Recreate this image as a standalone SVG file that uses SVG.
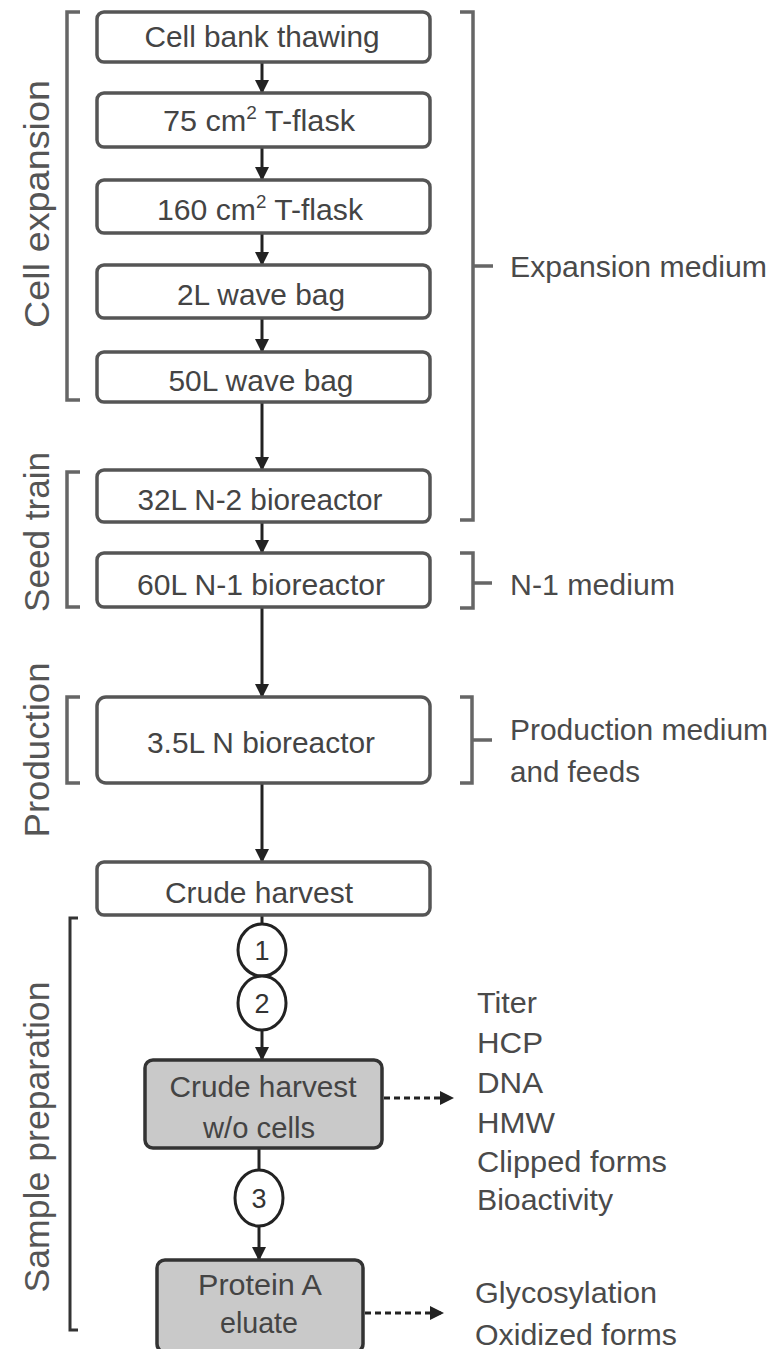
<svg xmlns="http://www.w3.org/2000/svg" width="782" height="1349" viewBox="0 0 782 1349">
<style>
.box{fill:#fff;stroke:#555;stroke-width:3.5}
.gbox{fill:#c9c9c9;stroke:#333;stroke-width:3.5}
.bt{font-family:"Liberation Sans",Arial,sans-serif;font-size:29px;fill:#444;text-anchor:middle}
.lab{font-family:"Liberation Sans",Arial,sans-serif;font-size:30px;fill:#4a4a4a}
.rot{font-family:"Liberation Sans",Arial,sans-serif;font-size:35px;fill:#555;text-anchor:middle}
.br{fill:none;stroke:#666;stroke-width:3.5}
.con{fill:none;stroke:#222;stroke-width:3}
.dash{fill:none;stroke:#222;stroke-width:3;stroke-dasharray:6 4}
.circ{fill:#fff;stroke:#222;stroke-width:3}
.num{font-family:"Liberation Sans",Arial,sans-serif;font-size:27px;fill:#333;text-anchor:middle}
</style>
<defs>
<marker id="ah" markerUnits="userSpaceOnUse" markerWidth="14" markerHeight="14" refX="13" refY="7" orient="auto">
<path d="M0,0 L14,7 L0,14 z" fill="#222"/>
</marker>
</defs>
<rect width="782" height="1349" fill="#fff"/>

<g id="brackets">
<path class="br" d="M80,12 H67 V400 H80"/>
<path class="br" d="M80,472 H67 V607 H80"/>
<path class="br" d="M80,697 H67 V783 H80"/>
<path class="br" d="M78,918 H70 V1330 H78" style="stroke:#333;stroke-width:3"/>
<path class="br" d="M460,12 H473 V520 H460 M473,266 H493"/>
<path class="br" d="M460,553 H473 V608 H460 M473,583 H492"/>
<path class="br" d="M460,697 H472 V783 H460 M472,740 H492"/>
</g>

<g id="stage-labels">
<text class="rot" transform="translate(49,204) rotate(-90)" textLength="248" lengthAdjust="spacingAndGlyphs">Cell expansion</text>
<text class="rot" transform="translate(49,532) rotate(-90)" textLength="160" lengthAdjust="spacingAndGlyphs">Seed train</text>
<text class="rot" transform="translate(49,750) rotate(-90)" textLength="175" lengthAdjust="spacingAndGlyphs">Production</text>
<text class="rot" transform="translate(49,1137) rotate(-90)" textLength="311" lengthAdjust="spacingAndGlyphs">Sample preparation</text>
</g>

<g id="connectors">
<line class="con" x1="262" y1="62" x2="262" y2="93" marker-end="url(#ah)"/>
<line class="con" x1="262" y1="147" x2="262" y2="180" marker-end="url(#ah)"/>
<line class="con" x1="262" y1="233" x2="262" y2="265" marker-end="url(#ah)"/>
<line class="con" x1="262" y1="318" x2="262" y2="352" marker-end="url(#ah)"/>
<line class="con" x1="262" y1="402" x2="262" y2="470" marker-end="url(#ah)"/>
<line class="con" x1="262" y1="522" x2="262" y2="553" marker-end="url(#ah)"/>
<line class="con" x1="262" y1="607" x2="262" y2="697" marker-end="url(#ah)"/>
<line class="con" x1="262" y1="783" x2="262" y2="862" marker-end="url(#ah)"/>
<line class="con" x1="262" y1="915" x2="262" y2="924"/>
<line class="con" x1="262" y1="1030" x2="262" y2="1060" marker-end="url(#ah)"/>
<line class="con" x1="259" y1="1148" x2="259" y2="1170"/>
<line class="con" x1="259" y1="1226" x2="259" y2="1260" marker-end="url(#ah)"/>
<line class="dash" x1="384" y1="1098" x2="453" y2="1098" marker-end="url(#ah)"/>
<line class="dash" x1="365" y1="1313" x2="443" y2="1313" marker-end="url(#ah)"/>
</g>

<g id="n-cellbank"><rect class="box" x="97" y="12" width="333" height="50" rx="7"/><text class="bt" x="262" y="47" textLength="235" lengthAdjust="spacingAndGlyphs">Cell bank thawing</text></g>
<g id="n-t75"><rect class="box" x="97" y="93" width="333" height="54" rx="7"/><text class="bt" x="259" y="131" textLength="192" lengthAdjust="spacingAndGlyphs">75 cm<tspan font-size="18" dy="-12">2</tspan><tspan dy="12"> T-flask</tspan></text></g>
<g id="n-t160"><rect class="box" x="97" y="180" width="333" height="53" rx="7"/><text class="bt" x="260" y="220" textLength="206" lengthAdjust="spacingAndGlyphs">160 cm<tspan font-size="18" dy="-12">2</tspan><tspan dy="12"> T-flask</tspan></text></g>
<g id="n-2l"><rect class="box" x="97" y="265" width="333" height="53" rx="7"/><text class="bt" x="261" y="305" textLength="168" lengthAdjust="spacingAndGlyphs">2L wave bag</text></g>
<g id="n-50l"><rect class="box" x="97" y="352" width="333" height="50" rx="7"/><text class="bt" x="261" y="391" textLength="185" lengthAdjust="spacingAndGlyphs">50L wave bag</text></g>
<g id="n-32l"><rect class="box" x="97" y="470" width="333" height="52" rx="7"/><text class="bt" x="260" y="510" textLength="245" lengthAdjust="spacingAndGlyphs">32L N-2 bioreactor</text></g>
<g id="n-60l"><rect class="box" x="97" y="553" width="333" height="54" rx="7"/><text class="bt" x="261" y="595" textLength="248" lengthAdjust="spacingAndGlyphs">60L N-1 bioreactor</text></g>
<g id="n-35l"><rect class="box" x="97" y="697" width="333" height="86" rx="9"/><text class="bt" x="261" y="753" textLength="228" lengthAdjust="spacingAndGlyphs">3.5L N bioreactor</text></g>
<g id="n-crude"><rect class="box" x="97" y="862" width="333" height="53" rx="7"/><text class="bt" x="259" y="903" textLength="188" lengthAdjust="spacingAndGlyphs">Crude harvest</text></g>

<g id="n-step1"><ellipse class="circ" cx="262" cy="950" rx="24" ry="26"/><text class="num" x="262" y="960">1</text></g>
<g id="n-step2"><ellipse class="circ" cx="262" cy="1003" rx="24" ry="27"/><text class="num" x="262" y="1013">2</text></g>

<g id="n-crude-wo"><rect class="gbox" x="145" y="1060" width="237" height="88" rx="8"/><text class="bt" x="263" y="1097" textLength="187" lengthAdjust="spacingAndGlyphs">Crude harvest</text><text class="bt" x="259" y="1138" textLength="112" lengthAdjust="spacingAndGlyphs">w/o cells</text></g>

<g id="n-step3"><ellipse class="circ" cx="259" cy="1198" rx="24" ry="28"/><text class="num" x="259" y="1208">3</text></g>

<g id="n-proteina"><rect class="gbox" x="157" y="1260" width="206" height="92" rx="8"/><text class="bt" x="260" y="1295" textLength="124" lengthAdjust="spacingAndGlyphs">Protein A</text><text class="bt" x="259" y="1333" textLength="78" lengthAdjust="spacingAndGlyphs">eluate</text></g>

<g id="media-labels">
<text class="lab" x="510" y="277" textLength="257" lengthAdjust="spacingAndGlyphs">Expansion medium</text>
<text class="lab" x="510" y="595" textLength="165" lengthAdjust="spacingAndGlyphs">N-1 medium</text>
<text class="lab" x="510" y="740" textLength="258" lengthAdjust="spacingAndGlyphs">Production medium</text>
<text class="lab" x="510" y="782" textLength="130" lengthAdjust="spacingAndGlyphs">and feeds</text>
</g>

<g id="assays-1">
<text class="lab" x="477" y="1013" textLength="60" lengthAdjust="spacingAndGlyphs">Titer</text>
<text class="lab" x="477" y="1053" textLength="66" lengthAdjust="spacingAndGlyphs">HCP</text>
<text class="lab" x="477" y="1093" textLength="66" lengthAdjust="spacingAndGlyphs">DNA</text>
<text class="lab" x="477" y="1133" textLength="78" lengthAdjust="spacingAndGlyphs">HMW</text>
<text class="lab" x="477" y="1172" textLength="190" lengthAdjust="spacingAndGlyphs">Clipped forms</text>
<text class="lab" x="477" y="1210" textLength="136" lengthAdjust="spacingAndGlyphs">Bioactivity</text>
</g>
<g id="assays-2">
<text class="lab" x="475" y="1303" textLength="182" lengthAdjust="spacingAndGlyphs">Glycosylation</text>
<text class="lab" x="475" y="1345" textLength="202" lengthAdjust="spacingAndGlyphs">Oxidized forms</text>
</g>
</svg>
